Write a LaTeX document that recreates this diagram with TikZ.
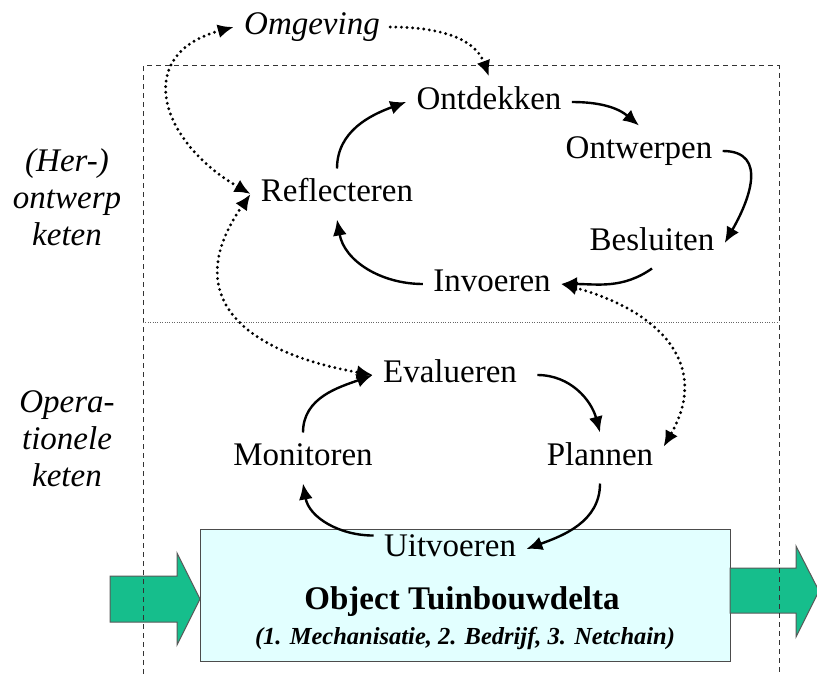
\documentclass[tikz,border=0pt]{standalone}
\usepackage{fontspec}
\setmainfont{Liberation Serif}
\usetikzlibrary{arrows.meta}

\definecolor{deltagreen}{RGB}{22,190,140}
\definecolor{objcyan}{RGB}{226,255,255}
\newcommand{\phasefont}{\fontsize{16.5}{18.5}\selectfont}

\tikzset{
  phase/.style={font=\phasefont, inner sep=5pt, text height=11.5pt, text depth=3.6pt},
  chainlabel/.style={font=\fontsize{16.5}{18.5}\selectfont\itshape, align=center},
  objbox/.style={draw=black!70, fill=objcyan, line width=0.5pt, minimum width=265pt, minimum height=66pt, inner sep=0pt},
  objsub/.style={font=\fontsize{12.25}{14}\selectfont\bfseries\itshape, text height=8.6pt, text depth=2.7pt, inner sep=0pt},
  deltaarrow/.style={draw=black!65, fill=deltagreen, line width=0.5pt},
  frame/.style={draw=black!80, line width=0.5pt, dash pattern=on 2.5pt off 2pt},
  divider/.style={draw=black!60, line width=0.4pt, dash pattern=on 0.5pt off 0.7pt},
  flow/.style={->, line width=1.2pt},
  dotflow/.style={->, line width=1.6pt, line cap=round, dash pattern=on 0pt off 2.8pt}
}

\begin{document}
\begin{tikzpicture}[x=0.5pt, y=0.5pt, >={Latex[length=8pt,width=7pt]}]
  \useasboundingbox (0,0) rectangle (817,-674);

  % object with input and output
  \node[objbox] (obj) at (465,-595) {};
  \draw[deltaarrow] (110,-576) -- (177,-576) -- (177,-553) -- (200,-599) -- (177,-645) -- (177,-622) -- (110,-622) -- cycle;
  \draw[deltaarrow] (730,-568) -- (796,-568) -- (796,-546) -- (819,-591) -- (796,-637) -- (796,-613) -- (730,-613) -- cycle;
  \node[phase, font=\phasefont\bfseries] (objtitle) at (462,-602) {Object Tuinbouwdelta};
  \node[objsub] (objsubtitle) at (465,-639) {(1. Mechanisatie, 2. Bedrijf, 3. Netchain)};

  % frame of both chains
  \draw[frame] (143,-674) -- (143,-66) -- (779,-66) -- (779,-674);
  \draw[divider] (143,-322) -- (779,-322);

  \node[chainlabel] (herlabel) at (67,-197) {(Her-)\\ontwerp\\keten};
  \node[chainlabel] (oplabel) at (67,-439) {Opera-\\tionele\\keten};

  % (her-)ontwerp keten
  \node[phase, font=\phasefont\itshape] (omg) at (312,-27) {Omgeving};
  \node[phase] (ontd) at (489,-102) {Ontdekken};
  \node[phase] (ontw) at (639,-151) {Ontwerpen};
  \node[phase] (besl) at (652,-243) {Besluiten};
  \node[phase] (inv) at (492,-284) {Invoeren};
  \node[phase] (refl) at (337,-194) {Reflecteren};

  % operationele keten
  \node[phase] (eval) at (450,-375) {Evalueren};
  \node[phase] (moni) at (303,-458) {Monitoren};
  \node[phase] (plan) at (600,-458) {Plannen};
  \node[phase] (uitv) at (450,-549) {Uitvoeren};

  \draw[flow] (refl.north) to[out=90, in=200] (ontd.west);
  \draw[flow] (ontd.east) to[out=0, in=140] (ontw.north);
  \draw[flow] (ontw.east) to[out=0, in=60, looseness=1.3] (besl.east);
  \draw[flow] (besl.south) to[out=215, in=0] (inv.east);
  \draw[flow] (inv.west) to[out=180, in=-80] (refl.south);

  \draw[flow] (moni.north) to[out=90, in=200] (eval.west);
  \draw[flow] ([xshift=5pt]eval.east) to[out=0, in=105] (plan.north);
  \draw[flow] (plan.south) to[out=-90, in=20] (uitv.east);
  \draw[flow] (uitv.170) to[out=180, in=-80] (moni.south);

  % links between the chains
  \draw[dotflow, <->] (omg.west) to[out=195, in=150, looseness=1.6] (refl.west);
  \draw[dotflow] (omg.east) to[out=0, in=110] (ontd.north);
  \draw[dotflow, <->] (refl.west) to[out=235, in=170, looseness=1.5] (eval.west);
  \draw[dotflow, <->] (inv.east) to[out=-15, in=60, looseness=1.3] (plan.10);
\end{tikzpicture}
\end{document}
